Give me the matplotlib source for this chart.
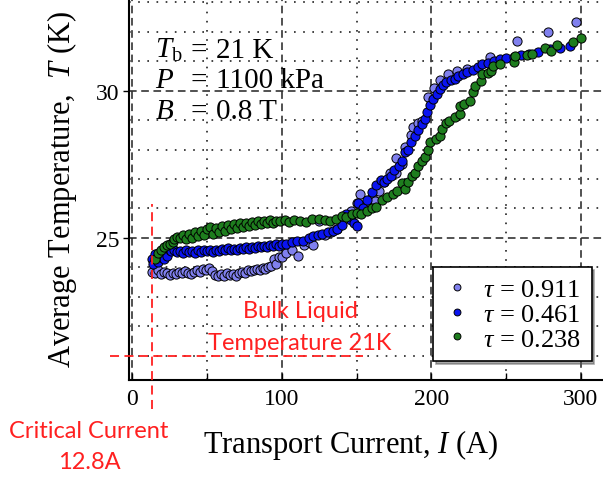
import matplotlib
matplotlib.use("Agg")
import matplotlib.pyplot as plt
from matplotlib.ticker import MultipleLocator

# ---- data: transport current (A) and average temperature (K) ----
I_911 = [13, 15, 17, 19, 21, 23, 25, 27, 29, 31, 33, 35, 37, 39, 41, 43, 45, 47, 49, 51,
         53, 55, 57, 59, 61, 63, 65, 67, 69, 71, 73, 75, 77, 79, 81, 83, 85, 87, 89, 91,
         93, 95, 96, 98, 100, 103, 107, 111, 115, 118, 121, 125, 129, 133, 137, 141, 146,
         150, 152, 152, 156, 160, 162, 165, 168, 172, 176, 176, 180, 182, 186, 188, 191,
         194, 198, 202, 206, 211, 217, 224, 239, 257, 278, 297]
T_911 = [23.85, 23.80, 23.90, 23.78, 23.85, 23.80, 23.75, 23.82, 23.78, 23.85, 23.80, 23.88,
         23.82, 23.78, 23.85, 23.90, 23.85, 23.95, 23.90, 23.98, 23.88, 23.75, 23.70, 23.78,
         23.72, 23.80, 23.75, 23.78, 23.72, 23.80, 23.85, 23.82, 23.90, 23.88, 23.92, 23.95,
         23.90, 23.98, 23.95, 24.02, 24.05, 24.30, 24.10, 24.35, 24.35, 24.50, 24.60, 24.40,
         24.75, 24.85, 24.75, 25.58, 25.10, 25.20, 25.30, 25.60, 25.90, 26.20, 26.50, 25.90,
         26.10, 26.40, 26.25, 26.60, 26.90, 27.20, 27.70, 27.20, 27.50, 28.10, 28.50, 28.77,
         28.90, 28.97, 29.78, 30.10, 30.35, 30.56, 30.65, 30.73, 31.14, 31.70, 32.00, 32.33]

I_461 = [13, 14, 15, 17, 19, 21, 23, 25, 26, 28, 30, 32, 34, 36, 38, 40, 42, 44, 46, 48,
         50, 52, 54, 56, 58, 60, 62, 64, 66, 68, 70, 72, 74, 76, 78, 80, 82, 84, 86, 88,
         90, 92, 94, 96, 98, 100, 103, 107, 110, 114, 118, 121, 124, 127, 131, 134, 137,
         140, 143, 146, 148, 150, 151, 154, 157, 160, 163, 166, 168, 170, 173, 175, 178,
         180, 182, 184, 186, 189, 191, 194, 196, 197, 199, 201, 204, 206, 208, 210, 213,
         216, 218, 221, 224, 228, 231, 234, 238, 242, 246, 250, 255, 260, 265, 271, 279,
         286, 293]
T_461 = [24.30, 24.10, 24.45, 24.20, 24.35, 24.30, 24.40, 24.60, 24.55, 24.60, 24.52, 24.55,
         24.50, 24.58, 24.52, 24.55, 24.50, 24.58, 24.53, 24.60, 24.55, 24.58, 24.52, 24.60,
         24.55, 24.62, 24.58, 24.65, 24.60, 24.63, 24.60, 24.66, 24.62, 24.68, 24.64, 24.70,
         24.66, 24.72, 24.68, 24.74, 24.70, 24.76, 24.72, 24.78, 24.74, 24.80, 24.78, 24.85,
         24.90, 24.90, 25.00, 25.07, 25.10, 25.15, 25.20, 25.24, 25.30, 25.45, 25.80, 25.60,
         25.50, 25.40, 26.20, 26.00, 26.30, 26.55, 26.80, 26.95, 26.90, 27.00, 27.10, 27.30,
         27.45, 27.60, 27.90, 28.00, 28.25, 28.46, 28.65, 28.87, 29.05, 29.27, 29.50, 29.70,
         29.90, 30.06, 30.20, 30.30, 30.35, 30.40, 30.50, 30.55, 30.62, 30.70, 30.80, 30.90,
         30.95, 31.00, 31.07, 31.10, 31.15, 31.20, 31.24, 31.30, 31.40, 31.45, 31.50]

I_238 = [15, 17, 19, 21, 23, 25, 27, 28, 30, 32, 34, 36, 38, 40, 42, 44, 46, 48, 50, 52,
         54, 56, 58, 60, 62, 64, 66, 68, 70, 72, 74, 76, 78, 80, 82, 84, 86, 88, 90, 92,
         94, 96, 99, 102, 105, 108, 112, 116, 120, 125, 129, 132, 136, 140, 143, 147, 150,
         153, 157, 160, 163, 167, 170, 174, 177, 180, 182, 184, 187, 189, 191, 194, 196,
         198, 199, 203, 206, 207, 210, 212, 216, 219, 219, 222, 226, 228, 229, 233, 234,
         238, 240, 241, 246, 255, 256, 264, 267, 276, 280, 284, 295, 300]
T_238 = [24.30, 24.50, 24.60, 24.70, 24.75, 24.80, 24.85, 24.95, 25.03, 25.00, 25.10, 24.95,
         25.14, 25.00, 25.20, 25.05, 25.24, 25.10, 25.30, 25.37, 25.15, 25.35, 25.20, 25.40,
         25.25, 25.45, 25.30, 25.48, 25.35, 25.50, 25.38, 25.52, 25.40, 25.54, 25.45, 25.56,
         25.47, 25.58, 25.50, 25.60, 25.52, 25.58, 25.58, 25.60, 25.55, 25.62, 25.58, 25.55,
         25.64, 25.64, 25.60, 25.58, 25.65, 25.75, 25.70, 25.80, 25.85, 25.80, 25.90, 26.00,
         26.05, 26.30, 26.40, 26.50, 26.60, 26.85, 26.65, 26.90, 27.10, 27.20, 27.45, 27.60,
         27.75, 28.00, 28.26, 28.35, 28.46, 28.70, 28.90, 28.97, 29.10, 29.20, 29.48, 29.55,
         29.65, 29.95, 30.16, 30.33, 30.56, 30.60, 30.67, 30.84, 30.90, 30.97, 31.18, 31.22,
         31.24, 31.45, 31.35, 31.55, 31.65, 31.78]

series = [
    (I_911, T_911, "#8080ee", r"$\tau$ = 0.911"),
    (I_461, T_461, "#0a14f0", r"$\tau$ = 0.461"),
    (I_238, T_238, "#1e7d1e", r"$\tau$ = 0.238"),
]

critical_current = 12.8   # A
bulk_temperature = 21.0   # K

plt.rcParams["font.family"] = ["Liberation Serif", "DejaVu Serif"]
plt.rcParams["mathtext.fontset"] = "custom"
plt.rcParams["mathtext.rm"] = "Liberation Serif"
plt.rcParams["mathtext.it"] = "Liberation Serif:italic"

W, H = 603, 481
fig = plt.figure(figsize=(W / 100, H / 100), dpi=100)


def fx(px):
    return px / W


def fy(py):
    return 1 - py / H


x0, x1 = -2.3, 320.0
y0, y1 = 20.18, 33.2
# axes box in pixels (right and top edges run past the canvas)
left_px, bottom_px = 129.0, 381.0
sx, sy = 1.495, 29.47
right_px = left_px + (x1 - x0) * sx
top_px = bottom_px - (y1 - y0) * sy
ax = fig.add_axes([fx(left_px), fy(bottom_px), (right_px - left_px) / W,
                   (bottom_px - top_px) / H])
ax.set_xlim(x0, x1)
ax.set_ylim(y0, y1)

for I, T, c, lab in series:
    ax.plot(I, T, linestyle="none", marker="o", markersize=6.6, markerfacecolor=c,
            markeredgecolor="black", markeredgewidth=0.7, label=lab, zorder=3)

ax.xaxis.set_major_locator(MultipleLocator(100))
ax.xaxis.set_minor_locator(MultipleLocator(50))
ax.yaxis.set_major_locator(MultipleLocator(5))
ax.yaxis.set_minor_locator(MultipleLocator(1))
ax.grid(which="major", color="#222222", linestyle=(0, (5, 3)), linewidth=1.1)
ax.grid(which="minor", color="#222222", linestyle=(0, (1, 4.5)), linewidth=1.2)
ax.set_axisbelow(True)

ax.tick_params(axis="x", which="both", direction="in", length=5, width=1, labelsize=17, pad=6)
ax.tick_params(axis="y", which="major", direction="out", length=4, width=1, labelsize=17, pad=3)
ax.tick_params(axis="y", which="minor", length=0)
for s in ("left", "bottom"):
    ax.spines[s].set_linewidth(1.5)
ax.spines["top"].set_visible(False)
ax.spines["right"].set_visible(False)

ax.set_xlabel(r"Transport Current, $I$ (A)", fontsize=22)
ax.xaxis.set_label_coords((351 - left_px) / (right_px - left_px), -(428 - bottom_px) / (bottom_px - top_px))
ax.set_ylabel(r"Average Temperature,  $T$ (K)", fontsize=22, labelpad=12)

# operating conditions
cond_size = 21
rows = [(r"$T_{\rm b}$", "21 K", 58), (r"$P$", "1100 kPa", 88), (r"$B$", "0.8 T", 119)]
for sym, val, base in rows:
    fig.text(fx(155), fy(base), sym, fontsize=cond_size, va="baseline", ha="left")
    fig.text(fx(191), fy(base), "=", fontsize=cond_size, va="baseline", ha="left")
    fig.text(fx(216), fy(base), val, fontsize=cond_size, va="baseline", ha="left")

# critical current and bath temperature markers
red = "#ff2020"
ax.plot([critical_current, critical_current], [19.2, 26.15], color=red, linestyle=(0, (5, 3)),
        linewidth=1.3, clip_on=False, zorder=4)
ax.plot([-15, 154], [bulk_temperature, bulk_temperature], color=red, linestyle=(0, (5, 3)),
        linewidth=1.3, clip_on=False, zorder=4)
fig.text(fx(300), fy(312), "Bulk Liquid", color=red, fontsize=17, family="Lato",
         ha="center", va="center")
fig.text(fx(300), fy(344), "Temperature 21K", color=red, fontsize=17, family="Lato",
         ha="center", va="center")
fig.text(fx(89), fy(432), "Critical Current", color=red, fontsize=17, family="Lato",
         ha="center", va="center")
fig.text(fx(89), fy(463), "12.8A", color=red, fontsize=17, family="Lato",
         ha="center", va="center")

leg = ax.legend(loc="upper left", bbox_to_anchor=(fx(433), fy(268)),
                bbox_transform=fig.transFigure, fontsize=19, frameon=True, fancybox=False,
                shadow={"color": "#555555"}, markerscale=0.75, handletextpad=0.5,
                borderpad=0.4, labelspacing=0.05, handlelength=1.0, borderaxespad=0)
leg.get_frame().set_edgecolor("black")
leg.get_frame().set_linewidth(1.2)

fig.savefig("out.png", dpi=100)
